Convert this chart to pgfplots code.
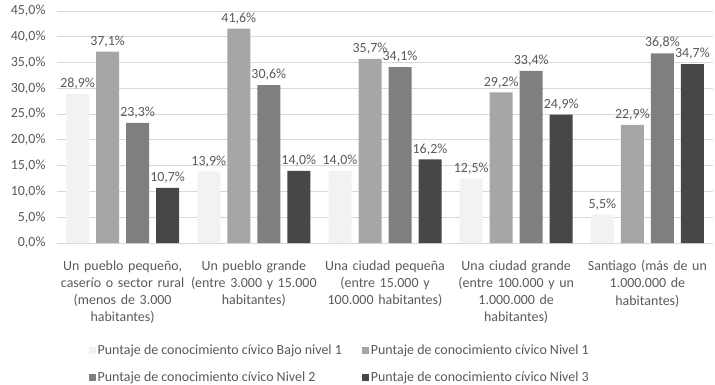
\documentclass[border=0pt]{standalone}
\usepackage{pgfplots}
\pgfplotsset{compat=1.18}
\usepackage{fontspec}
\setmainfont{Carlito}
\definecolor{cA}{HTML}{F2F2F2}
\definecolor{cB}{HTML}{A6A6A6}
\definecolor{cC}{HTML}{7F7F7F}
\definecolor{cD}{HTML}{474747}
\definecolor{txt}{HTML}{595959}
\definecolor{grd}{HTML}{D9D9D9}
\begin{document}
\begin{tikzpicture}
\useasboundingbox (0,0) rectangle (715bp,-385bp);
\begin{axis}[
  at={(57bp,-243bp)}, anchor=south west,
  scale only axis, width=656bp, height=232bp,
  xmin=-0.5, xmax=4.5, ymin=0, ymax=45,
  ytick={0,5,...,45},
  /pgf/number format/assume math mode=true,
  yticklabel={\pgfmathprintnumber[fixed,fixed zerofill,precision=1,use comma]{\tick}\%},
  yticklabel style={font=\fontsize{14}{16}\selectfont, text=txt, xshift=-8bp},
  xtick={0,1,2,3,4},
  xticklabels={{Un pueblo pequeño,\\caserío o sector rural\\(menos de 3.000\\habitantes)},
               {Un pueblo grande\\(entre 3.000 y 15.000\\habitantes)},
               {Una ciudad pequeña\\(entre 15.000 y\\100.000 habitantes)},
               {Una ciudad grande\\(entre 100.000 y un\\1.000.000 de\\habitantes)},
               {Santiago (más de un\\1.000.000 de\\habitantes)}},
  xticklabel style={font=\fontsize{14}{17.3}\selectfont, text=txt, align=center, text width=150bp, anchor=north, yshift=-14bp},
  major tick length=0pt,
  axis x line*=bottom, axis y line*=left,
  y axis line style={draw=none},
  x axis line style={draw=grd},
  ymajorgrids, grid style={draw=grd, line width=0.8pt},
  ybar=7bp, bar width=23bp,
  nodes near coords={\pgfmathprintnumber[fixed,fixed zerofill,precision=1,use comma]{\pgfplotspointmeta}\%},
  nodes near coords style={font=\fontsize{14}{16}\selectfont, text=txt, yshift=1bp},
  legend columns=2,
  legend cell align=left,
  legend style={draw=none, at={(axis description cs:0.048,-0.43)}, anchor=north west,
    font=\fontsize{14}{16}\selectfont, text=txt, inner sep=0pt,
    /tikz/every even column/.append style={column sep=18bp},
    row sep=12bp},
  legend image code/.code={\fill[#1] (0bp,-3.5bp) rectangle (7bp,3.5bp);},
]
\addplot[fill=cA, draw=none] coordinates {(0,28.9) (1,13.9) (2,14.0) (3,12.5) (4,5.5)};
\addplot[fill=cB, draw=none] coordinates {(0,37.1) (1,41.6) (2,35.7) (3,29.2) (4,22.9)};
\addplot[fill=cC, draw=none] coordinates {(0,23.3) (1,30.6) (2,34.1) (3,33.4) (4,36.8)};
\addplot[fill=cD, draw=none] coordinates {(0,10.7) (1,14.0) (2,16.2) (3,24.9) (4,34.7)};
\legend{Puntaje de conocimiento cívico Bajo nivel 1, Puntaje de conocimiento cívico Nivel 1,
        Puntaje de conocimiento cívico Nivel 2, Puntaje de conocimiento cívico Nivel 3}
\end{axis}
\end{tikzpicture}
\end{document}
